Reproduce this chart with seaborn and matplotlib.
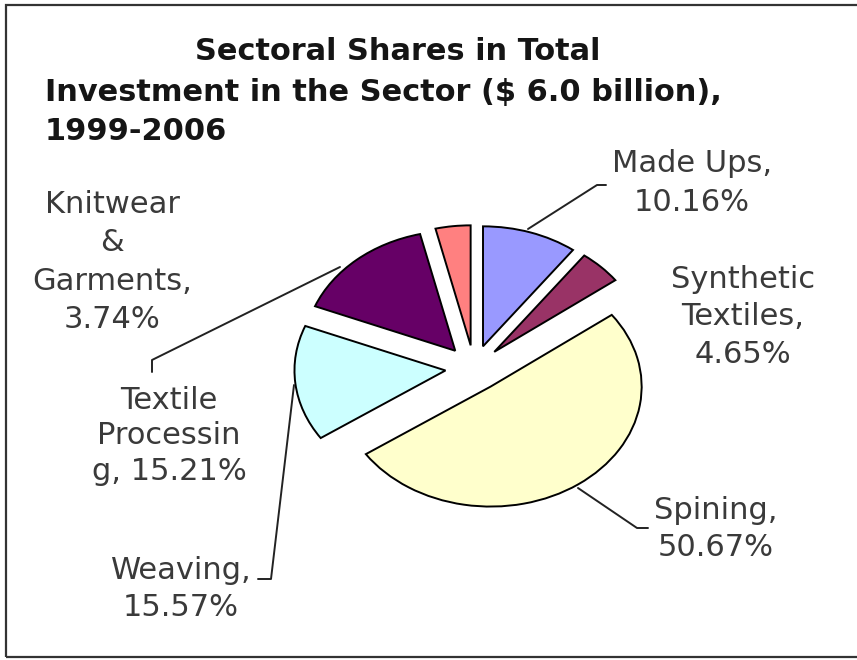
import matplotlib
matplotlib.use("Agg")
import matplotlib.pyplot as plt
import seaborn as sns
from matplotlib.patches import Rectangle
from matplotlib.lines import Line2D

sns.set_theme(style="white")
plt.rcParams['font.family'] = ['DejaVu Sans']

# ---- data ----
sectors = ["Made Ups", "Synthetic Textiles", "Spining", "Weaving",
           "Textile Processing", "Knitwear & Garments"]
shares = [10.16, 4.65, 50.67, 15.57, 15.21, 3.74]
colors = ["#9999FF", "#993366", "#FFFFCC", "#CCFFFF", "#660066", "#FF8080"]
label_texts = ["Made Ups,\n10.16%", "Synthetic\nTextiles,\n4.65%", "Spining,\n50.67%",
               "Weaving,\n15.57%", "Textile\nProcessin\ng, 15.21%",
               "Knitwear\n&\nGarments,\n3.74%"]
title_lines = ["Sectoral Shares in Total",
               "Investment in the Sector ($ 6.0 billion),",
               "1999-2006"]

W, H = 857, 660
fig = plt.figure(figsize=(W / 100, H / 100), dpi=100)
fig.patch.set_facecolor("white")
ax = fig.add_axes([0, 0, 1, 1])

ax.pie(shares, colors=colors, startangle=90, counterclock=False,
       explode=[0.19] * len(shares), radius=1.0,
       wedgeprops=dict(edgecolor="black", linewidth=1.4))

# pixel mapping: center (474,368), rx=151, ry=120
cx, cy, rx, ry = 474, 368, 151, 120
ax.set_aspect("auto")
ax.set_xlim(-cx / rx, (W - cx) / rx)
ax.set_ylim((cy - H) / ry, cy / ry)
ax.axis("off")

def px(x, y):
    return x / W, 1 - y / H

# title
for line, (x, y, ha) in zip(title_lines,
                            [(398, 52, "center"), (45, 92, "left"), (45, 131, "left")]):
    fx, fy = px(x, y)
    fig.text(fx, fy, line, fontsize=21.9, fontweight="bold", ha=ha, va="center",
             color="#151515")

# labels
label_pos = [(692, 183), (743, 317), (716, 529), (181, 589), (169, 436), (112, 262)]
spacing = [1.45, 1.38, 1.38, 1.35, 1.3, 1.42]
for txt, (x, y), ls in zip(label_texts, label_pos, spacing):
    fx, fy = px(x, y)
    fig.text(fx, fy, txt, fontsize=22, ha="center", va="center",
             color="#3a3a3a", linespacing=ls)

# leader lines (pixel coordinates)
leaders = [
    [(528, 229), (597, 185), (606, 185)],
    [(578, 488), (637, 528), (648, 528)],
    [(294, 385), (271, 579), (258, 579)],
    [(340, 267), (152, 360), (152, 372)],
]
for pts in leaders:
    xs = [p[0] / W for p in pts]
    ys = [1 - p[1] / H for p in pts]
    fig.add_artist(Line2D(xs, ys, color="#222222", lw=1.4, transform=fig.transFigure))

# outer frame
fig.add_artist(Rectangle((6 / W, 1 - 657 / H), (W - 5) / W, (657 - 5) / H,
                         transform=fig.transFigure, fill=False,
                         edgecolor="#333333", lw=1.6))

fig.savefig("out.png", dpi=100, facecolor="white")
